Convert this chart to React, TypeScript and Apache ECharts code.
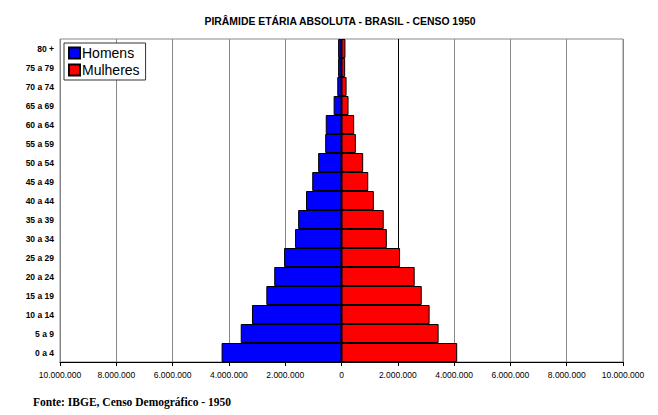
import { useEffect, useRef } from 'react';
import * as echarts from 'echarts';

const faixas = [
  '0 a 4', '5 a 9', '10 a 14', '15 a 19', '20 a 24', '25 a 29', '30 a 34', '35 a 39',
  '40 a 44', '45 a 49', '50 a 54', '55 a 59', '60 a 64', '65 a 69', '70 a 74', '75 a 79', '80 +',
];

// valores absolutos (habitantes)
const homens = [
  4260000, 3580000, 3180000, 2670000, 2390000, 2040000, 1650000, 1540000,
  1260000, 1040000, 830000, 580000, 560000, 280000, 150000, 120000, 120000,
];
const mulheres = [
  4110000, 3450000, 3130000, 2850000, 2600000, 2080000, 1610000, 1500000,
  1150000, 950000, 770000, 510000, 450000, 250000, 180000, 130000, 140000,
];

const fmt = (v: number) =>
  Math.abs(v).toString().replace(/\B(?=(\d{3})+(?!\d))/g, '.');

export default function App() {
  const divRef = useRef<HTMLDivElement>(null);

  useEffect(() => {
    if (!divRef.current) return;
    const chart = echarts.init(divRef.current, null, { renderer: 'svg' });

    chart.setOption({
      animation: false,
      textStyle: { fontFamily: 'Liberation Sans, Arial, sans-serif' },
      title: {
        text: 'PIRÂMIDE ETÁRIA ABSOLUTA - BRASIL - CENSO 1950',
        left: 335,
        textAlign: 'center',
        top: 11,
        textStyle: { fontSize: 10.4, fontWeight: 'bold', color: '#000' },
      },
      legend: {
        orient: 'vertical',
        left: 64,
        top: 43,
        padding: [3, 6, 3, 4],
        itemGap: 3,
        itemWidth: 11,
        itemHeight: 11,
        icon: 'rect',
        borderColor: '#333',
        borderWidth: 1,
        backgroundColor: '#fff',
        textStyle: { fontSize: 14, color: '#000', padding: [0, 0, 0, -3] },
        data: ['Homens', 'Mulheres'],
      },
      grid: {
        left: 60,
        right: 35,
        top: 39,
        bottom: 53,
        show: true,
        borderColor: '#888',
        borderWidth: 1,
      },
      xAxis: {
        type: 'value',
        min: -10000000,
        max: 10000000,
        interval: 2000000,
        axisLine: { show: true, lineStyle: { color: '#000' } },
        axisTick: { show: true, length: 4, lineStyle: { color: '#000' } },
        axisLabel: { fontSize: 8.5, color: '#000', margin: 8, formatter: fmt },
        splitLine: {
          show: true,
          lineStyle: {
            color: ['#888', '#888', '#888', '#888', '#888', '#000', '#000', '#888', '#888', '#888', '#888'],
            width: 1,
          },
        },
      },
      yAxis: {
        type: 'category',
        data: faixas,
        axisLine: { show: false },
        axisTick: { show: false },
        axisLabel: { fontSize: 8.5, fontWeight: 'bold', color: '#000', margin: 6 },
      },
      series: [
        {
          name: 'Homens',
          type: 'bar',
          stack: 'total',
          barCategoryGap: 0,
          data: homens.map(v => -v),
          itemStyle: { color: '#0000ff', borderColor: '#000', borderWidth: 1 },
        },
        {
          name: 'Mulheres',
          type: 'bar',
          stack: 'total',
          barCategoryGap: 0,
          data: mulheres,
          itemStyle: { color: '#ff0000', borderColor: '#000', borderWidth: 1 },
        },
      ],
      graphic: [
        {
          type: 'text',
          left: 33,
          top: 396,
          style: {
            text: 'Fonte: IBGE, Censo Demográfico - 1950',
            font: 'bold 11.5px "Liberation Serif", "Times New Roman", serif',
            fill: '#000',
          },
        },
      ],
    });

    return () => chart.dispose();
  }, []);

  return (
    <div
      ref={divRef}
      style={{ position: 'fixed', left: 0, top: 0, width: 658, height: 415, background: '#fff' }}
    />
  );
}
